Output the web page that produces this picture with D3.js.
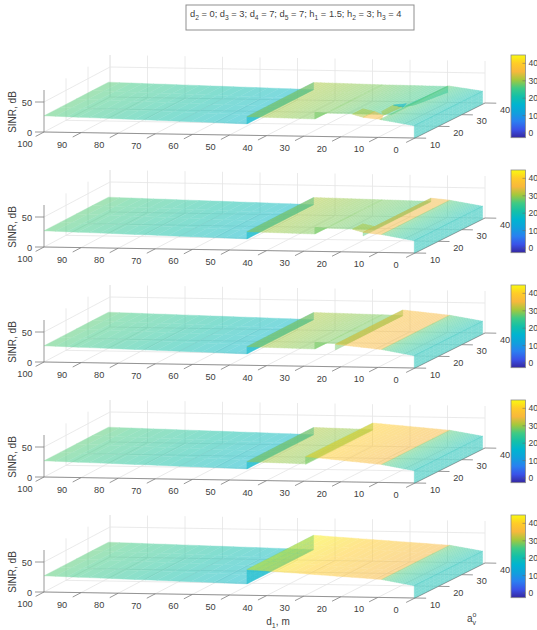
<!DOCTYPE html>
<html lang="en">
<head>
<meta charset="UTF-8">
<title>SINR surfaces</title>
<script src="https://cdn.jsdelivr.net/npm/d3@7"></script>
<style>
    body { margin: 0; background: #fff; }
    svg { display: block; }
    text { font-family: "Liberation Sans", Arial, sans-serif; fill: #404040; }
</style>
</head>
<body>
<svg width="537" height="630"></svg>
<script>
// axis ticks
const dTicks = [100, 90, 80, 70, 60, 50, 40, 30, 20, 10, 0];
const aTicks = [10, 20, 30, 40];
const zTicks = [0, 50];
const barTicks = [0, 10, 20, 30, 40];
const barRange = [-2.7, 44.8];

// parula-like colour stops, low to high
const parula = ["#3527a0", "#3a52e8", "#2a80f0", "#10a0dc", "#00b4d0", "#14c0a8",
                "#40ca84", "#a4c83c", "#f8b83c", "#ffcc28", "#f9f90f"];

// every patch: four corners of [d1, a, SINR, colour value]
const leftPatch = [[100, 10, 27, 27], [45.3, 10, 19, 17], [45.3, 39.3, 19, 17], [100, 39.3, 26, 27]];
const rightPatch = [[9, 10, 30, 27.5], [0.2, 10, 20.5, 20], [0.2, 39.3, 21, 20], [9, 39.3, 30, 27.5]];
const endWall = [[0.2, 10, 0, 20], [0.2, 39.3, 0, 20], [0.2, 39.3, 21, 20], [0.2, 10, 20.5, 20]];
const wall45 = [[45.3, 10, 19, 17], [45.3, 39.3, 19, 17], [45.3, 39.3, 31, 17], [45.3, 10, 31, 17]];
const midFull = [[45.3, 10, 31, 31], [27, 10, 29, 28.5], [27, 39.3, 29, 28.5], [45.3, 39.3, 31, 31]];
const wedge = [[27, 10, 29, 28], [27, 15, 29, 28], [27, 15, 29, 28], [27, 10, 40, 28]];

const panel1 = [
    leftPatch, wall45, midFull, wedge,
    [[27, 15, 29, 28.5], [9.5, 15, 28, 25], [9.5, 39.3, 28, 25], [27, 39.3, 29, 28.5]],
    [[20, 15, 28, 31], [20, 19.6, 28, 31], [14, 15, 33, 31], [14, 10, 33, 31]],
    [[14, 10, 33, 36], [9, 10, 30, 36], [9.5, 11.4, 34, 36], [14, 15, 33, 36]],
    [[14, 18, 27, 31], [14, 23, 28, 31], [9.5, 20, 31.6, 31], [9.5, 11.4, 34, 31]],
    [[14, 23, 28, 16], [9.5, 21.5, 34, 16], [9.5, 20, 31.6, 16], [9.5, 20, 31.6, 16]],
    [[9.5, 20, 31.6, 22], [9.5, 39.3, 28, 22], [9.5, 39.3, 18, 22], [9.5, 25, 25, 22]],
    [[9.5, 10, 30, 27.5], [0.2, 10, 20.5, 20], [0.2, 39.3, 21, 20], [9.5, 39.3, 29, 27.5]],
    endWall
];
const panel2 = [
    leftPatch, wall45, midFull, wedge,
    [[27, 15, 29, 28.5], [14, 15, 27.5, 26.5], [14, 39.3, 27.5, 26.5], [27, 39.3, 29, 28.5]],
    [[14, 10, 27, 27], [14, 39.3, 27, 27], [14, 39.3, 33, 27], [14, 10, 33, 27]],
    [[20, 15, 28, 31], [20, 19.6, 28, 31], [14, 15, 33, 31], [14, 10, 33, 31]],
    [[14, 10, 33, 35], [9, 10, 30, 35], [9, 39.3, 30, 35], [14, 39.3, 33, 35]],
    rightPatch, endWall
];
const panel3 = [
    leftPatch, wall45, midFull, wedge,
    [[27, 15, 29, 28.5], [21.5, 15, 28, 27.5], [21.5, 39.3, 28, 27.5], [27, 39.3, 29, 28.5]],
    [[21.5, 10, 28, 28], [21.5, 39.3, 28, 28], [21.5, 39.3, 37.5, 28], [21.5, 10, 37.5, 28]],
    [[21.5, 10, 37.5, 37], [9, 10, 30, 35], [9, 39.3, 30, 35], [21.5, 39.3, 37.5, 37]],
    rightPatch, endWall
];
const panel4 = [
    leftPatch, wall45,
    [[45.3, 10, 31, 31], [29.5, 10, 29, 29], [29.5, 39.3, 29, 29], [45.3, 39.3, 31, 31]],
    [[29.5, 10, 28, 28], [29.5, 39.3, 28, 28], [29.5, 39.3, 40, 28], [29.5, 10, 41, 28]],
    [[29.5, 10, 41, 41], [9, 10, 30, 35], [9, 39.3, 30, 35], [29.5, 39.3, 40, 41]],
    rightPatch, endWall
];
const panel5 = [
    leftPatch,
    [[45.3, 10, 19, 17], [45.3, 39.3, 19, 17], [45.3, 39.3, 43, 17], [45.3, 10, 43, 17]],
    [[45.3, 10, 43, 44], [9, 10, 30, 35], [9, 39.3, 30, 35], [45.3, 39.3, 43, 44]],
    rightPatch, endWall
];
const panels = [panel1, panel2, panel3, panel4, panel5];

const svg = d3.select("svg");
const gridColor = "#e4e4e4", axisColor = "#7d7d7d";

// box corners in px, relative to the panel origin
const frontX = d3.scaleLinear().domain([100, 0]).range([44, 415]);
const backX = d3.scaleLinear().domain([100, 0]).range([110, 485]);
const frontY = d3.scaleLinear().domain([100, 0]).range([0, 6]);
const backY = d3.scaleLinear().domain([100, 0]).range([-35, -29]);
const depth = d3.scaleLinear().domain([10, 40]).range([0, 1]);
const zPx = d3.scaleLinear().domain([0, 70]).range([0, -42]);

const colorScale = d3.scaleLinear()
    .domain(parula.map((c, i) => barRange[0] + (barRange[1] - barRange[0]) * i / (parula.length - 1)))
    .range(parula)
    .clamp(true);

function project(d, a, z) {
    const t = depth(a);
    return [frontX(d) + (backX(d) - frontX(d)) * t,
            frontY(d) + (backY(d) - frontY(d)) * t + zPx(z)];
}

const mix = (p, q, t) => p.map((v, i) => v + (q[i] - v) * t);

function drawPatch(g, corners) {
    // split the quad so the colour can vary across it
    const nu = 18, nv = 4;
    const layer = g.append("g").attr("opacity", 0.52);
    const at = (u, v) => mix(mix(corners[0], corners[1], u), mix(corners[3], corners[2], u), v);
    for (let i = 0; i < nu; i++) {
        for (let j = 0; j < nv; j++) {
            const cell = [at(i / nu, j / nv), at((i + 1) / nu, j / nv),
                          at((i + 1) / nu, (j + 1) / nv), at(i / nu, (j + 1) / nv)];
            const mid = at((i + 0.5) / nu, (j + 0.5) / nv);
            const col = colorScale(mid[3]);
            layer.append("path")
                .attr("d", d3.line()(cell.map(c => project(c[0], c[1], c[2]))) + "Z")
                .attr("fill", col)
                .attr("stroke", col)
                .attr("stroke-width", 0.4);
        }
    }
}

function seg(g, p, q, color, width) {
    g.append("line")
        .attr("x1", p[0]).attr("y1", p[1])
        .attr("x2", q[0]).attr("y2", q[1])
        .attr("stroke", color)
        .attr("stroke-width", width);
}

function drawAxes(g) {
    // grid
    dTicks.forEach(d => {
        seg(g, project(d, 10, 0), project(d, 40, 0), gridColor, 0.8);
        seg(g, project(d, 40, 0), project(d, 40, 70), gridColor, 0.8);
    });
    aTicks.forEach(a => {
        seg(g, project(100, a, 0), project(0, a, 0), gridColor, 0.8);
        if (a > 10) seg(g, project(100, a, 0), project(100, a, 70), gridColor, 0.8);
    });
    seg(g, project(100, 10, 50), project(100, 40, 50), gridColor, 0.8);
    seg(g, project(100, 40, 50), project(0, 40, 50), gridColor, 0.8);

    // axis lines and ticks
    seg(g, project(100, 10, 0), project(0, 10, 0), axisColor, 0.8);
    seg(g, project(0, 10, 0), project(0, 40, 0), axisColor, 0.8);
    seg(g, project(100, 10, 0), project(100, 10, 70), axisColor, 0.8);

    dTicks.forEach(d => {
        seg(g, project(d, 10, 0), project(d, 6.2, 0), axisColor, 0.8);
        const p = project(d, 10, 0);
        g.append("text").attr("x", p[0] - 19).attr("y", p[1] + 15)
            .attr("text-anchor", "middle").attr("font-size", 9.2).text(d);
    });
    aTicks.forEach(a => {
        seg(g, project(0, a, 0), project(-3, a, 0), axisColor, 0.8);
        const p = project(0, a, 0);
        g.append("text").attr("x", p[0] + 20).attr("y", p[1] + 9.5)
            .attr("text-anchor", "middle").attr("font-size", 9.2).text(a);
    });
    zTicks.forEach(z => {
        const p = project(100, 10, z);
        seg(g, p, [p[0] - 9, p[1]], axisColor, 0.8);
        g.append("text").attr("x", p[0] - 12).attr("y", p[1] + 3.5)
            .attr("text-anchor", "end").attr("font-size", 9.2).text(z);
    });

    g.append("text")
        .attr("transform", "translate(16,-20) rotate(-90)")
        .attr("text-anchor", "middle").attr("font-size", 10)
        .text("SINR, dB");
}

function drawColorbar(g) {
    const barY = d3.scaleLinear().domain(barRange).range([5.7, -77]);
    g.append("rect")
        .attr("x", 511).attr("y", barY(barRange[1]))
        .attr("width", 14.5).attr("height", barY(barRange[0]) - barY(barRange[1]))
        .attr("fill", "url(#parulaGrad)")
        .attr("stroke", "#8c8c8c").attr("stroke-width", 0.8);
    barTicks.forEach(v => {
        seg(g, [522.5, barY(v)], [525.5, barY(v)], "#666", 0.5);
        g.append("text").attr("x", 528.5).attr("y", barY(v) + 3)
            .attr("font-size", 8.5).text(v);
    });
}

// shared gradient for the colour bars
const defs = svg.append("defs");
const gradient = defs.append("linearGradient")
    .attr("id", "parulaGrad")
    .attr("x1", 0).attr("y1", 1).attr("x2", 0).attr("y2", 0);
parula.forEach((c, i) => {
    gradient.append("stop").attr("offset", i / (parula.length - 1)).attr("stop-color", c);
});

panels.forEach((patches, i) => {
    const g = svg.append("g").attr("transform", `translate(0,${132 + i * 115})`);
    drawAxes(g);
    patches.forEach(p => drawPatch(g, p));
    drawColorbar(g);
});

// note box at the top
svg.append("rect")
    .attr("x", 186).attr("y", 5).attr("width", 228).attr("height", 25)
    .attr("fill", "#fff").attr("stroke", "#8f8f8f").attr("stroke-width", 1);

function subText(x, y, anchor, size, parts) {
    const t = svg.append("text").attr("x", x).attr("y", y)
        .attr("text-anchor", anchor).attr("font-size", size);
    parts.forEach(part => {
        const span = t.append("tspan").text(part[0]);
        if (part[1] === "sub") span.attr("dy", 2.5).attr("font-size", size * 0.72);
        if (part[1] === "base") span.attr("dy", -2.5);
    });
}

const noteParts = [["d"], ["2", "sub"], [" = 0; d", "base"], ["3", "sub"], [" = 3; d", "base"], ["4", "sub"],
    [" = 7; d", "base"], ["5", "sub"], [" = 7; h", "base"], ["1", "sub"], [" = 1.5; h", "base"], ["2", "sub"],
    [" = 3; h", "base"], ["3", "sub"], [" = 4", "base"]];
subText(190, 17, "start", 9.3, noteParts);

subText(278, 625, "middle", 10, [["d"], ["1", "sub"], [", m", "base"]]);

// a with v below and o above
svg.append("text").attr("x", 467).attr("y", 622).attr("font-size", 10).text("a");
svg.append("text").attr("x", 472.5).attr("y", 625).attr("font-size", 7).text("v");
svg.append("text").attr("x", 472.5).attr("y", 617).attr("font-size", 7).text("o");
</script>
</body>
</html>
